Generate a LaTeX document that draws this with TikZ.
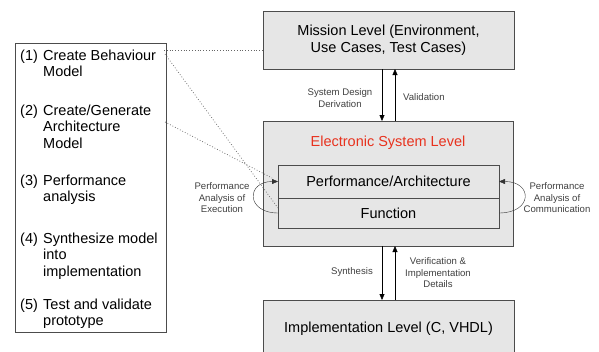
\documentclass[tikz,border=0pt]{standalone}
\usepackage{fontspec}
\setmainfont{Liberation Sans}
\usetikzlibrary{arrows.meta}
\definecolor{boxgray}{HTML}{E6E6E6}
\definecolor{eslred}{HTML}{E8321E}

\tikzset{
  levelbox/.style={draw=black!70, fill=boxgray, inner sep=0pt, outer sep=0pt, align=center,
    font=\fontsize{14.5}{17.5}\selectfont},
  partbox/.style={levelbox, minimum width=221pt},
  small/.style={font=\fontsize{9.6}{11.5}\selectfont, text=black!75, align=center, inner sep=0pt},
  item/.style={font=\fontsize{14.5}{16.5}\selectfont, align=left, anchor=north west, inner sep=0pt},
  dots/.style={dash pattern=on 0.8pt off 2pt, line width=0.7pt, black!60},
}

\begin{document}
\begin{tikzpicture}[x=1pt, y=-1pt, >={Triangle[length=6pt,width=5pt]}]
  \useasboundingbox (0,0) rectangle (599,351);
  \clip (0,0) rectangle (599,351);

  % list of steps
  \node[draw=black!70, minimum width=151pt, minimum height=289pt, inner sep=0pt] (steps) at (90.5,187.5) {};
  \node[item] (n1) at (20,49.5) {(1)};
  \node[item] (beh) at (43,49.5) {Create Behaviour\\Model};
  \node[item] (n2) at (20,104.5) {(2)};
  \node[item] (arch) at (43,104.5) {Create/Generate\\Architecture\\Model};
  \node[item] (n3) at (20,174.5) {(3)};
  \node[item] (perfan) at (43,174.5) {Performance\\analysis};
  \node[item] (n4) at (20,232.5) {(4)};
  \node[item] (synth) at (43,232.5) {Synthesize model\\into\\implementation};
  \node[item] (n5) at (20,298.5) {(5)};
  \node[item] (test) at (43,298.5) {Test and validate\\prototype};

  % levels
  \node[levelbox, minimum width=251pt, minimum height=58pt] (mission) at (388.5,40) {Mission Level (Environment,\\Use Cases, Test Cases)};
  \node[levelbox, minimum width=250pt, minimum height=125pt] (esl) at (388,183.5) {};
  \node[font=\fontsize{14.5}{17.5}\selectfont, text=eslred, inner sep=0pt] (esltitle) at (388,143) {Electronic System Level};
  \node[partbox, minimum height=33pt] (perf) at (388.5,181.5) {Performance/Architecture};
  \node[partbox, minimum height=30pt] (function) at (388.5,213) {Function};
  \node[levelbox, minimum width=251pt, minimum height=58pt] (impl) at (388.5,329) {Implementation Level (C, VHDL)};

  % arrows between levels
  \draw[->] ([xshift=-6.5pt]mission.south) -- ([xshift=-6.5pt]mission.south |- esl.north);
  \draw[->] ([xshift=6.5pt]mission.south |- esl.north) -- ([xshift=6.5pt]mission.south);
  \draw[->] ([xshift=-6pt]esl.south) -- ([xshift=-6pt]esl.south |- impl.north);
  \draw[->] ([xshift=7pt]esl.south |- impl.north) -- ([xshift=7pt]esl.south);
  \node[small] (derive) at (340,98) {System Design\\Derivation};
  \node[small, anchor=west] (valid) at (403,97) {Validation};
  \node[small] (synlab) at (352,272) {Synthesis};
  \node[small] (verif) at (438,273) {Verification \&\\Implementation\\Details};

  % performance analysis loops
  \draw[->, black!80] (function.west) .. controls +(-32,0) and +(-32,0) .. (perf.west);
  \draw[->, black!80] (function.east) .. controls +(34,0) and +(34,0) .. (perf.east);
  \node[small] (execlab) at (222,198) {Performance\\Analysis of\\Execution};
  \node[small] (commlab) at (557,198) {Performance\\Analysis of\\Communication};

  % links from the steps
  \coordinate (behR) at (164,50);
  \coordinate (behD) at (165,54);
  \coordinate (archR) at (165,122);
  \draw[dots] (behR) -- (behR -| mission.west);
  \draw[dots] (behD) -- ([yshift=5pt]function.west);
  \draw[dots] (archR) -- ([xshift=-6pt,yshift=3.5pt]perf.west);
\end{tikzpicture}
\end{document}
